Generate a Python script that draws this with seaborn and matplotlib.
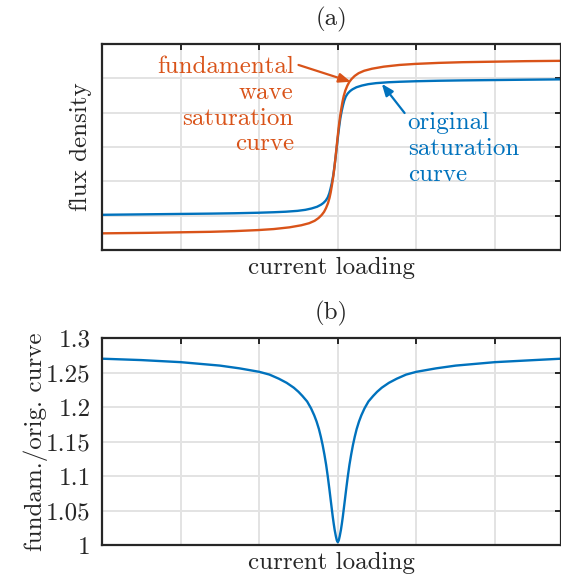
import numpy as np
import pandas as pd
import matplotlib
matplotlib.use("Agg")
import matplotlib.pyplot as plt
import seaborn as sns
from matplotlib.ticker import FixedLocator, FixedFormatter, NullFormatter

# ---------------- data ----------------
blue_x = [-3.0, -2.413, -2.013, -1.613, -1.313, -1.013, -0.813, -0.663, -0.513, -0.413,
          -0.333, -0.263, -0.213, -0.183, -0.153, -0.128, -0.108, -0.093, -0.076, -0.058,
          -0.043, -0.028, -0.013,
          0.002, 0.017, 0.032, 0.050, 0.067, 0.082, 0.102, 0.127, 0.157, 0.187, 0.237,
          0.307, 0.387, 0.487, 0.637, 0.787, 0.987, 1.287, 1.587, 1.987, 2.387, 2.84]
blue_y = [-1.975, -1.96, -1.95, -1.94, -1.93, -1.915, -1.90, -1.885, -1.86, -1.83,
          -1.79, -1.74, -1.68, -1.63, -1.56, -1.47, -1.35, -1.22, -1.05, -0.83,
          -0.58, -0.30, 0.0,
          0.30, 0.58, 0.83, 1.05, 1.22, 1.35, 1.47, 1.56, 1.63, 1.68, 1.74,
          1.79, 1.83, 1.86, 1.885, 1.90, 1.915, 1.93, 1.94, 1.95, 1.96, 1.97]

orange_x = [-3.0, -2.415, -2.015, -1.615, -1.315, -1.015, -0.815, -0.615, -0.465, -0.365,
            -0.295, -0.245, -0.205, -0.175, -0.15, -0.125, -0.105, -0.09, -0.075, -0.06,
            -0.045, -0.03, -0.015,
            0.0, 0.015, 0.03, 0.045, 0.06, 0.075, 0.095, 0.12, 0.145, 0.175, 0.215,
            0.265, 0.335, 0.435, 0.585, 0.785, 0.985, 1.285, 1.585, 1.985, 2.385, 2.84]
orange_y = [-2.515, -2.50, -2.485, -2.47, -2.45, -2.42, -2.39, -2.34, -2.28, -2.22,
            -2.15, -2.07, -1.98, -1.89, -1.78, -1.64, -1.48, -1.32, -1.12, -0.90,
            -0.64, -0.33, 0.0,
            0.33, 0.64, 0.90, 1.12, 1.32, 1.48, 1.64, 1.78, 1.89, 1.98, 2.07,
            2.15, 2.22, 2.28, 2.34, 2.39, 2.42, 2.45, 2.47, 2.485, 2.50, 2.51]

ratio_x = [-3.0, -2.5, -2.0, -1.5, -1.25, -1.0, -0.87, -0.75, -0.65, -0.56, -0.5, -0.45,
           -0.39, -0.34, -0.3, -0.27, -0.24, -0.216, -0.193, -0.17, -0.148, -0.127,
           -0.108, -0.09, -0.077, -0.064, -0.052, -0.04, -0.025, -0.013, 0.0,
           0.013, 0.025, 0.04, 0.052, 0.064, 0.077, 0.09, 0.108, 0.127, 0.148, 0.17,
           0.193, 0.216, 0.24, 0.27, 0.3, 0.34, 0.39, 0.45, 0.5, 0.56, 0.65, 0.75,
           0.87, 1.0, 1.25, 1.5, 2.0, 2.5, 2.84]
ratio_y = [1.270, 1.268, 1.265, 1.260, 1.256, 1.251, 1.247, 1.241, 1.235, 1.228, 1.222, 1.216,
           1.208, 1.198, 1.188, 1.179, 1.168, 1.157, 1.145, 1.131, 1.116, 1.099,
           1.082, 1.065, 1.053, 1.041, 1.031, 1.022, 1.013, 1.007, 1.004,
           1.007, 1.013, 1.022, 1.031, 1.041, 1.053, 1.065, 1.082, 1.099, 1.116, 1.131,
           1.145, 1.157, 1.168, 1.179, 1.188, 1.198, 1.208, 1.216, 1.222, 1.228, 1.235, 1.241,
           1.247, 1.251, 1.256, 1.260, 1.265, 1.268, 1.270]

ratio_ticks = [1.0, 1.05, 1.1, 1.15, 1.2, 1.25, 1.3]
ratio_tick_labels = ["1", "1.05", "1.1", "1.15", "1.2", "1.25", "1.3"]

title_a = "(a)"
title_b = "(b)"
xlabel = "current loading"
ylabel_a = "flux density"
ylabel_b = "fundam./orig. curve"
label_orange = "fundamental\nwave\nsaturation\ncurve"
label_blue = "original\nsaturation\ncurve"

BLUE = "#0072BD"
ORANGE = "#D95319"

# ---------------- style ----------------
sns.set_style("white")
plt.rcParams["font.family"] = ["cmr10", "DejaVu Serif"]
plt.rcParams["mathtext.fontset"] = "cm"
plt.rcParams["axes.formatter.use_mathtext"] = True
FS = 18

fig = plt.figure(figsize=(5.61, 5.75), dpi=100)
W, H = 561.0, 575.0
ax1 = fig.add_axes([102 / W, 1 - 250 / H, 459 / W, 206 / H])
ax2 = fig.add_axes([102 / W, 1 - 545 / H, 459 / W, 207 / H])

df_blue = pd.DataFrame({"x": blue_x, "y": blue_y})
df_orange = pd.DataFrame({"x": orange_x, "y": orange_y})
df_ratio = pd.DataFrame({"x": ratio_x, "y": ratio_y})

sns.lineplot(data=df_blue, x="x", y="y", ax=ax1, color=BLUE, lw=1.7, sort=False)
sns.lineplot(data=df_orange, x="x", y="y", ax=ax1, color=ORANGE, lw=1.7, sort=False)
sns.lineplot(data=df_ratio, x="x", y="y", ax=ax2, color=BLUE, lw=1.7, sort=False)

for ax in (ax1, ax2):
    ax.set_xlim(-3.0, 2.84)
    ax.xaxis.set_major_locator(FixedLocator([-3, -2, -1, 0, 1, 2]))
    ax.xaxis.set_major_formatter(NullFormatter())
    ax.grid(True, color="#e3e3e3", lw=1.4)
    ax.set_axisbelow(True)
    for s in ax.spines.values():
        s.set_color("#262626")
        s.set_linewidth(1.6)
    ax.tick_params(axis="both", which="both", direction="in", length=4.5, width=1.4,
                   color="#262626", top=True, right=True, labelsize=FS, pad=8)
    ax.tick_params(axis="x", pad=3)
    ax.set_xlabel(xlabel, fontsize=FS, labelpad=2)

ax1.set_ylim(-3, 3)
ax1.yaxis.set_major_locator(FixedLocator([-3, -2, -1, 0, 1, 2, 3]))
ax1.yaxis.set_major_formatter(NullFormatter())
ax1.set_ylabel(ylabel_a, fontsize=FS, labelpad=-1)
ax1.set_title(title_a, fontsize=FS, pad=13)

ax2.set_ylim(1.0, 1.3)
ax2.yaxis.set_major_locator(FixedLocator(ratio_ticks))
ax2.yaxis.set_major_formatter(FixedFormatter(ratio_tick_labels))
ax2.set_ylabel(ylabel_b, fontsize=FS, labelpad=-1)
ax2.set_title(title_b, fontsize=FS, pad=13)

# annotations
ax1.text(-0.56, 2.64, label_orange, color=ORANGE, fontsize=FS, ha="right", va="top",
         multialignment="right", linespacing=1.2)
ax1.annotate("", xy=(0.165, 1.90), xytext=(-0.50, 2.39),
             arrowprops=dict(arrowstyle="-|>,head_length=0.7,head_width=0.28",
                             color=ORANGE, lw=1.6, shrinkA=0, shrinkB=0))
ax1.text(0.89, 1.01, label_blue, color=BLUE, fontsize=FS, ha="left", va="top",
         multialignment="left", linespacing=1.2)
ax1.annotate("", xy=(0.56, 1.84), xytext=(0.85, 0.99),
             arrowprops=dict(arrowstyle="-|>,head_length=0.7,head_width=0.28",
                             color=BLUE, lw=1.6, shrinkA=0, shrinkB=0))

fig.savefig("out.png", dpi=100)
